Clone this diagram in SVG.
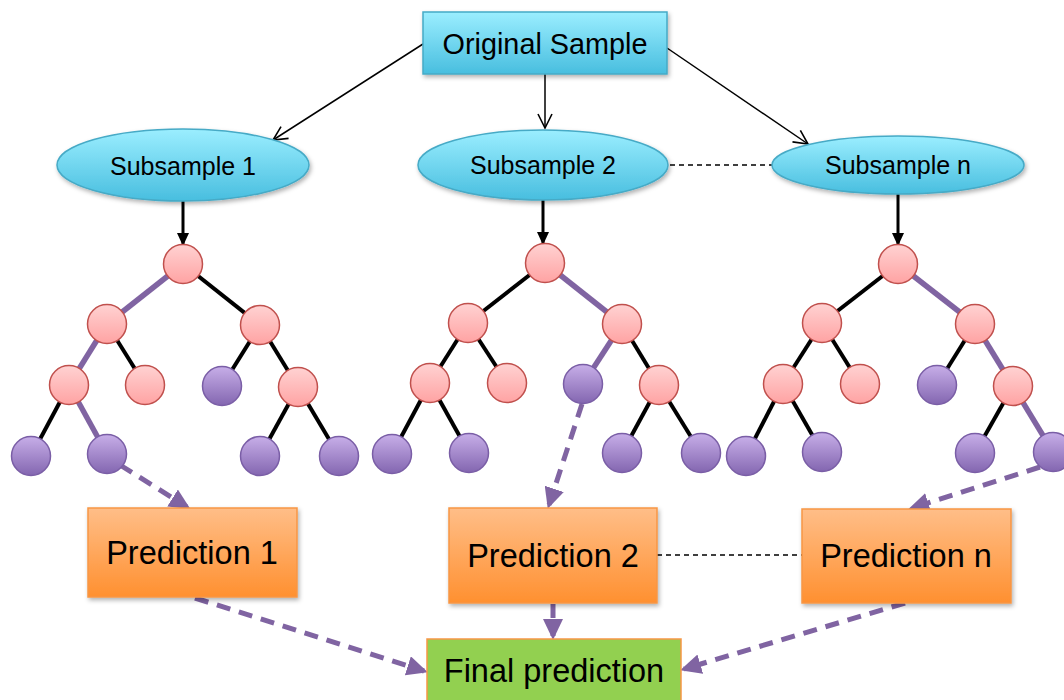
<svg xmlns="http://www.w3.org/2000/svg" width="1064" height="700" viewBox="0 0 1064 700">
  <defs>
    <linearGradient id="gCyan" x1="0" y1="0" x2="0" y2="1">
      <stop offset="0" stop-color="#9BEEFF"/>
      <stop offset="1" stop-color="#48BEDF"/>
    </linearGradient>
    <linearGradient id="gOrange" x1="0" y1="0" x2="0" y2="1">
      <stop offset="0" stop-color="#FFBE88"/>
      <stop offset="1" stop-color="#FF9030"/>
    </linearGradient>
    <linearGradient id="gPink" x1="0" y1="0" x2="0" y2="1">
      <stop offset="0" stop-color="#FFD2D2"/>
      <stop offset="1" stop-color="#FFA3A3"/>
    </linearGradient>
    <linearGradient id="gPurple" x1="0" y1="0" x2="0" y2="1">
      <stop offset="0" stop-color="#C7AEE8"/>
      <stop offset="1" stop-color="#8366B0"/>
    </linearGradient>
    <filter id="shadow" x="-10%" y="-10%" width="130%" height="140%">
      <feDropShadow dx="1.5" dy="2.5" stdDeviation="2" flood-color="#000" flood-opacity="0.3"/>
    </filter>
    <marker id="openArrow" markerUnits="userSpaceOnUse" markerWidth="18" markerHeight="16" refX="15" refY="8" orient="auto">
      <path d="M1,1 L15,8 L1,15" fill="none" stroke="#000" stroke-width="1.6"/>
    </marker>
    <marker id="blackArrow" markerUnits="userSpaceOnUse" markerWidth="14" markerHeight="14" refX="12" refY="7" orient="auto">
      <path d="M0,1 L13,7 L0,13 z" fill="#000"/>
    </marker>
    <marker id="purpleArrow" markerUnits="userSpaceOnUse" markerWidth="22" markerHeight="20" refX="17" refY="10" orient="auto">
      <path d="M0,0 L21,10 L0,20 z" fill="#8064A2"/>
    </marker>
    <style>
      .lbl { font-family: "Liberation Sans", Arial, sans-serif; fill: #000; text-anchor: middle; }
      .thin { stroke: #000; stroke-width: 1.5; fill: none; }
      .dash { stroke: #000; stroke-width: 1.3; stroke-dasharray: 5 4; fill: none; }
      .stem { stroke: #000; stroke-width: 3; fill: none; }
      .edge { stroke: #000; stroke-width: 4; }
      .path { stroke: #8064A2; stroke-width: 5.5; }
      .flow { stroke: #8064A2; stroke-width: 5; stroke-dasharray: 14 9; fill: none; }
      .pink { fill: url(#gPink); stroke: #C0504D; stroke-width: 1.5; }
      .leaf { fill: url(#gPurple); stroke: #7A5EA6; stroke-width: 1.5; }
      .cyan { fill: url(#gCyan); stroke: #46AAC6; stroke-width: 1.5; }
      .orange { fill: url(#gOrange); stroke: #F79646; stroke-width: 1.5; }
    </style>
  </defs>

  <rect width="1064" height="700" fill="#fff"/>

  <!-- connectors -->
  <g id="connectors">
    <line class="thin" x1="423" y1="44" x2="273" y2="140" marker-end="url(#openArrow)"/>
    <line class="thin" x1="545" y1="74" x2="545" y2="128" marker-end="url(#openArrow)"/>
    <line class="thin" x1="667" y1="48" x2="808" y2="144" marker-end="url(#openArrow)"/>
    <line class="dash" x1="670" y1="165" x2="772" y2="165"/>
    <line class="stem" x1="183" y1="201" x2="183" y2="245" marker-end="url(#blackArrow)"/>
    <line class="stem" x1="543" y1="200" x2="543" y2="244" marker-end="url(#blackArrow)"/>
    <line class="stem" x1="898" y1="194" x2="898" y2="245" marker-end="url(#blackArrow)"/>
    <line class="dash" x1="657" y1="555" x2="802" y2="555"/>

    <!-- leaf to prediction -->
    <line class="flow" x1="120" y1="465" x2="187" y2="507" marker-end="url(#purpleArrow)"/>
    <line class="flow" x1="582" y1="404" x2="549" y2="505" marker-end="url(#purpleArrow)"/>
    <line class="flow" x1="1040" y1="467" x2="912" y2="508" marker-end="url(#purpleArrow)"/>
    <!-- prediction to final -->
    <line class="flow" x1="195" y1="598" x2="424" y2="671" marker-end="url(#purpleArrow)"/>
    <line class="flow" x1="553" y1="604" x2="553" y2="636" marker-end="url(#purpleArrow)"/>
    <line class="flow" x1="905" y1="603" x2="684" y2="669" marker-end="url(#purpleArrow)"/>
  </g>

  <!-- source -->
  <g id="original-sample">
    <rect class="cyan" x="423" y="12" width="244" height="62" filter="url(#shadow)"/>
    <text class="lbl" x="545" y="54" font-size="28.8">Original Sample</text>
  </g>

  <g id="subsample-1">
    <ellipse class="cyan" cx="183" cy="165" rx="126" ry="36" filter="url(#shadow)"/>
    <text class="lbl" x="183" y="175" font-size="25">Subsample 1</text>
  </g>
  <g id="subsample-2">
    <ellipse class="cyan" cx="543" cy="165" rx="125" ry="35" filter="url(#shadow)"/>
    <text class="lbl" x="543" y="174" font-size="25">Subsample 2</text>
  </g>
  <g id="subsample-n">
    <ellipse class="cyan" cx="898" cy="165" rx="126" ry="29" filter="url(#shadow)"/>
    <text class="lbl" x="898" y="174" font-size="25">Subsample n</text>
  </g>

  <!-- tree 1 -->
  <g id="tree-1">
    <line class="path" x1="183" y1="264" x2="107" y2="324"/>
    <line class="edge" x1="183" y1="264" x2="260" y2="325"/>
    <line class="path" x1="107" y1="324" x2="69" y2="385"/>
    <line class="edge" x1="107" y1="324" x2="145" y2="385"/>
    <line class="edge" x1="260" y1="325" x2="222" y2="386"/>
    <line class="edge" x1="260" y1="325" x2="298" y2="387"/>
    <line class="edge" x1="69" y1="385" x2="31" y2="456"/>
    <line class="path" x1="69" y1="385" x2="107" y2="454"/>
    <line class="edge" x1="298" y1="387" x2="260" y2="456"/>
    <line class="edge" x1="298" y1="387" x2="339" y2="456"/>
    <circle class="pink" cx="183" cy="264" r="19.5"/>
    <circle class="pink" cx="107" cy="324" r="19.5"/>
    <circle class="pink" cx="260" cy="325" r="19.5"/>
    <circle class="pink" cx="69" cy="385" r="19.5"/>
    <circle class="pink" cx="145" cy="385" r="19.5"/>
    <circle class="leaf" cx="222" cy="386" r="19.5"/>
    <circle class="pink" cx="298" cy="387" r="19.5"/>
    <circle class="leaf" cx="31" cy="456" r="19.5"/>
    <circle class="leaf" cx="107" cy="454" r="19.5"/>
    <circle class="leaf" cx="260" cy="456" r="19.5"/>
    <circle class="leaf" cx="339" cy="456" r="19.5"/>
  </g>

  <!-- tree 2 -->
  <g id="tree-2">
    <line class="edge" x1="545" y1="263" x2="468" y2="323"/>
    <line class="path" x1="545" y1="263" x2="622" y2="324"/>
    <line class="edge" x1="468" y1="323" x2="430" y2="383" stroke-width="5"/>
    <line class="edge" x1="468" y1="323" x2="507" y2="383"/>
    <line class="path" x1="622" y1="324" x2="583" y2="384"/>
    <line class="edge" x1="622" y1="324" x2="659" y2="385"/>
    <line class="edge" x1="430" y1="383" x2="392" y2="454"/>
    <line class="edge" x1="430" y1="383" x2="469" y2="453"/>
    <line class="edge" x1="659" y1="385" x2="622" y2="453"/>
    <line class="edge" x1="659" y1="385" x2="701" y2="453"/>
    <circle class="pink" cx="545" cy="263" r="19.5"/>
    <circle class="pink" cx="468" cy="323" r="19.5"/>
    <circle class="pink" cx="622" cy="324" r="19.5"/>
    <circle class="pink" cx="430" cy="383" r="19.5"/>
    <circle class="pink" cx="507" cy="383" r="19.5"/>
    <circle class="leaf" cx="583" cy="384" r="19.5"/>
    <circle class="pink" cx="659" cy="385" r="19.5"/>
    <circle class="leaf" cx="392" cy="454" r="19.5"/>
    <circle class="leaf" cx="469" cy="453" r="19.5"/>
    <circle class="leaf" cx="622" cy="453" r="19.5"/>
    <circle class="leaf" cx="701" cy="453" r="19.5"/>
  </g>

  <!-- tree 3 -->
  <g id="tree-3">
    <line class="edge" x1="898" y1="264" x2="822" y2="323"/>
    <line class="path" x1="898" y1="264" x2="975" y2="324"/>
    <line class="edge" x1="822" y1="323" x2="783" y2="384" stroke-width="5"/>
    <line class="edge" x1="822" y1="323" x2="860" y2="384"/>
    <line class="edge" x1="975" y1="324" x2="937" y2="385"/>
    <line class="path" x1="975" y1="324" x2="1013" y2="386"/>
    <line class="edge" x1="783" y1="384" x2="746" y2="456"/>
    <line class="edge" x1="783" y1="384" x2="822" y2="452"/>
    <line class="edge" x1="1013" y1="386" x2="975" y2="453"/>
    <line class="path" x1="1013" y1="386" x2="1053" y2="452"/>
    <circle class="pink" cx="898" cy="264" r="19.5"/>
    <circle class="pink" cx="822" cy="323" r="19.5"/>
    <circle class="pink" cx="975" cy="324" r="19.5"/>
    <circle class="pink" cx="783" cy="384" r="19.5"/>
    <circle class="pink" cx="860" cy="384" r="19.5"/>
    <circle class="leaf" cx="937" cy="385" r="19.5"/>
    <circle class="pink" cx="1013" cy="386" r="19.5"/>
    <circle class="leaf" cx="746" cy="456" r="19.5"/>
    <circle class="leaf" cx="822" cy="452" r="19.5"/>
    <circle class="leaf" cx="975" cy="453" r="19.5"/>
    <circle class="leaf" cx="1053" cy="452" r="19.5"/>
  </g>

  <!-- predictions -->
  <g id="prediction-1">
    <rect class="orange" x="88" y="508" width="209" height="89" filter="url(#shadow)"/>
    <text class="lbl" x="192" y="564" font-size="32.5">Prediction 1</text>
  </g>
  <g id="prediction-2">
    <rect class="orange" x="449" y="508" width="208" height="95" filter="url(#shadow)"/>
    <text class="lbl" x="553" y="567" font-size="32.5">Prediction 2</text>
  </g>
  <g id="prediction-n">
    <rect class="orange" x="802" y="509" width="209" height="94" filter="url(#shadow)"/>
    <text class="lbl" x="906" y="567" font-size="32.5">Prediction n</text>
  </g>

  <g id="final-prediction">
    <rect x="427" y="639" width="254" height="80" fill="#92D050" stroke="#F79646" stroke-width="1.5"/>
    <text class="lbl" x="554" y="682" font-size="32.5">Final prediction</text>
  </g>
</svg>
